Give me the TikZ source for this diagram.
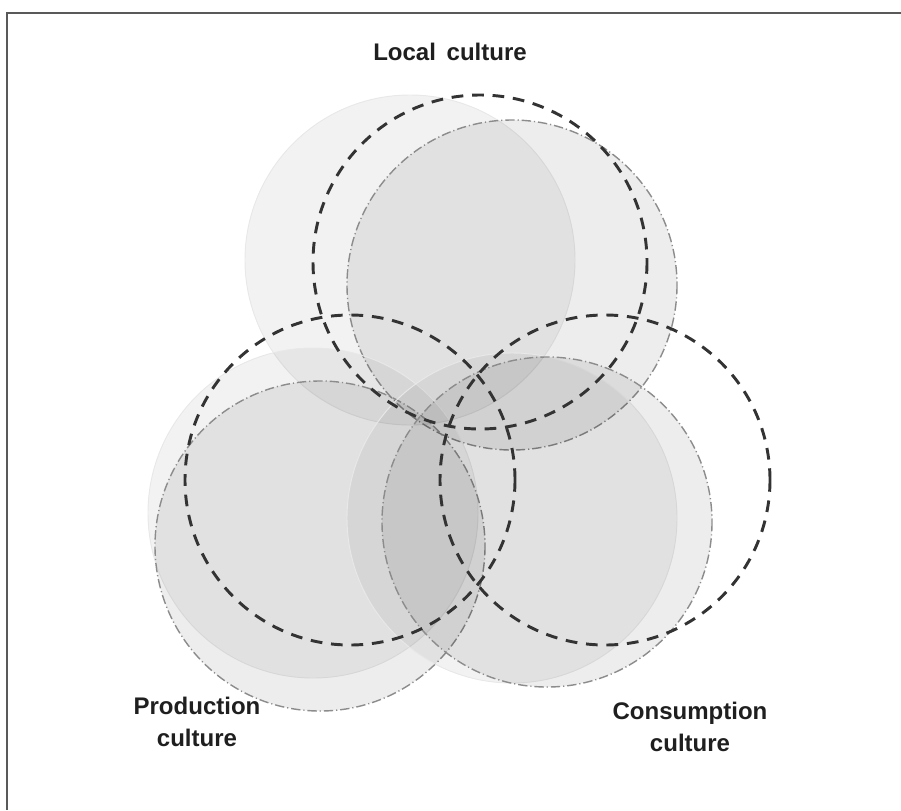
\documentclass[tikz,border=0pt]{standalone}
\usepackage{fontspec}
\setmainfont{Liberation Sans}
\begin{document}
\begin{tikzpicture}[x=0.03cm,y=-0.03cm,
    culturelabel/.style={font=\bfseries\fontsize{20.5}{27}\selectfont, align=center, text=black!88},
    faintdisc/.style={fill=black, fill opacity=0.05, draw=black!9, line width=0.8pt},
    dotdisc/.style={fill=black, fill opacity=0.07, draw=black!45, line width=1.2pt, dash pattern=on 8pt off 2.5pt on 1pt off 2.5pt},
    dashring/.style={draw=black!80, line width=2.5pt, dash pattern=on 10pt off 7.5pt}]
    \useasboundingbox (0,0) rectangle (901,810);
    % frame
    \draw[black!65, line width=2.2pt] (7,810) -- (7,13) -- (901,13);
    % local culture
    \draw[faintdisc] (410,260) circle (165);
    \draw[dotdisc] (512,285) circle (165);
    % production culture
    \draw[faintdisc] (313,513) circle (165);
    \draw[dotdisc] (320,546) circle (165);
    % consumption culture
    \draw[faintdisc] (512,518) circle (165);
    \draw[dotdisc] (547,522) circle (165);
    % dashed rings on top
    \draw[dashring] (480,262) circle (167);
    \draw[dashring] (350,480) circle (165);
    \draw[dashring] (605,480) circle (165);
    % labels
    \node[culturelabel] (local) at (450,52) {Local\, culture};
    \node[culturelabel] (production) at (197,722) {Production\\culture};
    \node[culturelabel] (consumption) at (690,727) {Consumption\\culture};
\end{tikzpicture}
\end{document}
